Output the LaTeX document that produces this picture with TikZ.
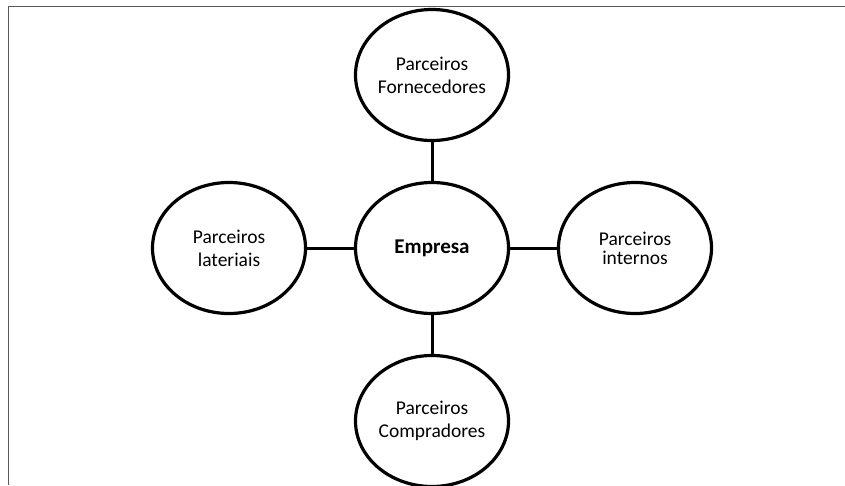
\documentclass[tikz,border=0pt]{standalone}
\usepackage{fontspec}
\setmainfont{Carlito}
\usetikzlibrary{shapes.geometric}

\begin{document}
\begin{tikzpicture}[x=1pt,y=-1pt,
    parc/.style={ellipse,draw,line width=3.2pt,minimum width=153pt,minimum height=131pt,
        inner sep=0pt,align=center,font=\fontsize{19.5}{23}\selectfont},
    liga/.style={line width=3pt}]
            \useasboundingbox (0,0) rectangle (845,485);
            \draw[line width=1.5pt,black!65] (845,6.5)--(8.5,6.5)--(8.5,485);
            \node[parc,font=\bfseries\fontsize{21}{25}\selectfont] (E) at (432,248) {Empresa};
            \node[parc] (F) at (432,75) {Parceiros\\Fornecedores};
            \node[parc] (C) at (432,421) {Parceiros\\Compradores};
            \node[parc] (L) at (229,248) {Parceiros\\lateriais};
            \node[parc,font=\fontsize{19.5}{19}\selectfont] (I) at (635,248) {Parceiros\\internos};
            \draw[liga] (F)--(E)--(C);
            \draw[liga] (L)--(E)--(I);
    \end{tikzpicture}
\end{document}
